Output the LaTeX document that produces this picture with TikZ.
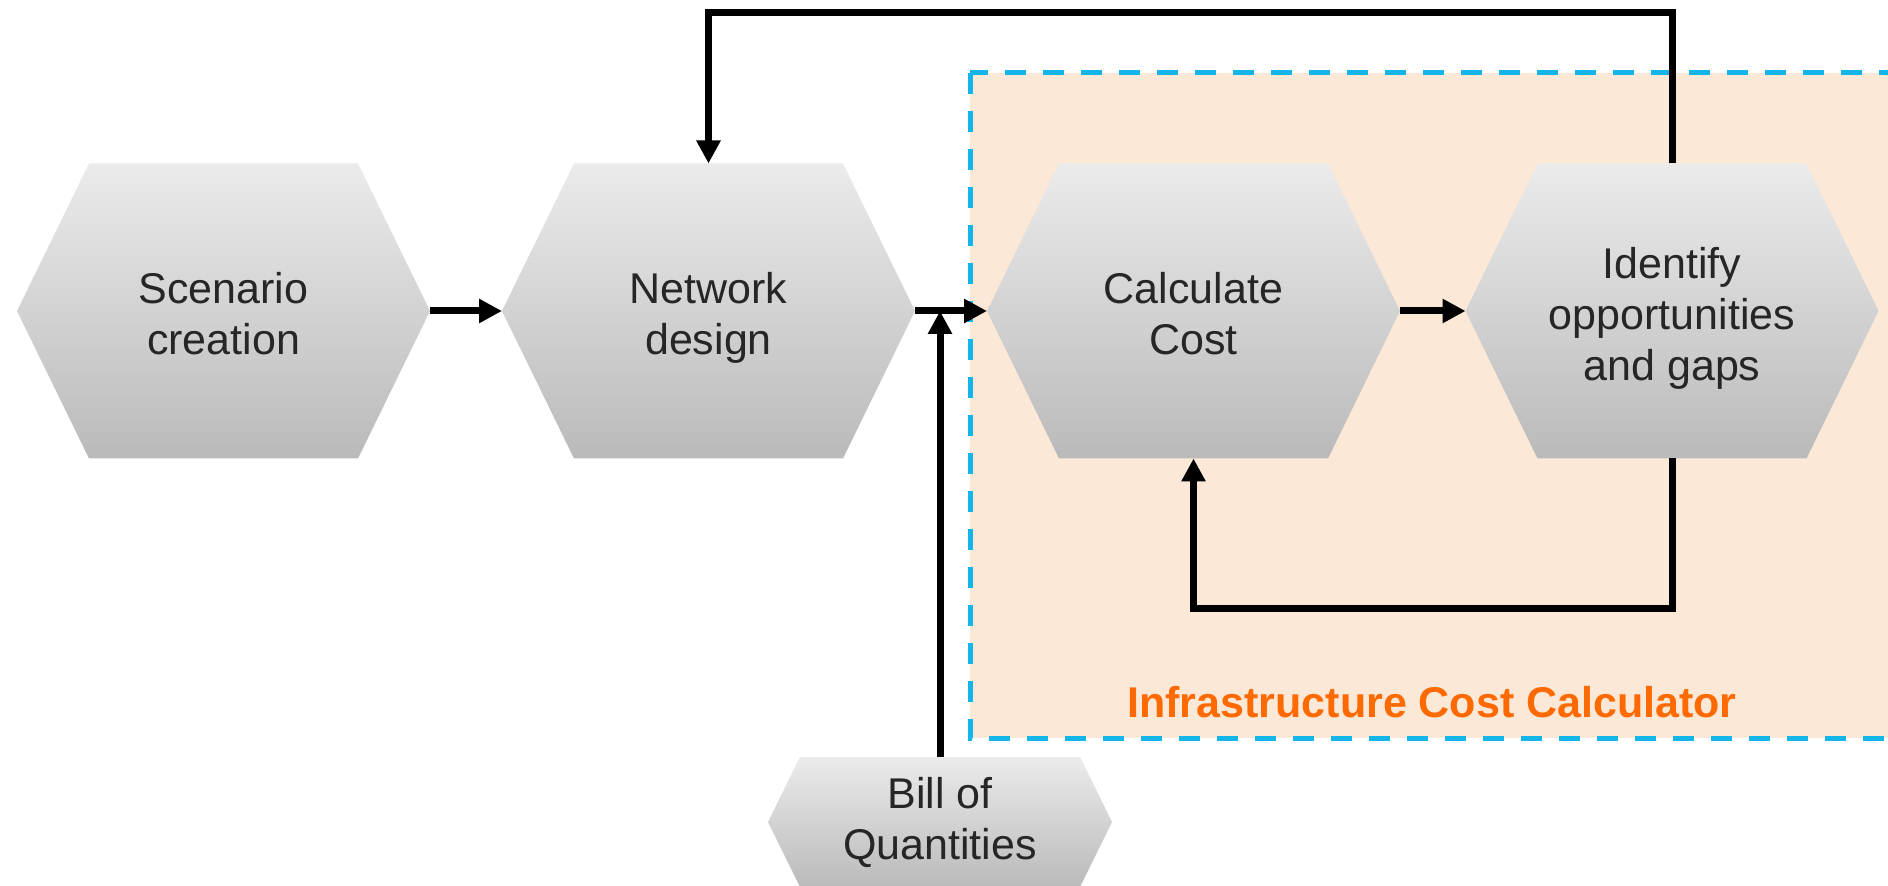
\documentclass[tikz,border=0pt]{standalone}
\usepackage{fontspec}
\setmainfont{Liberation Sans}
\usetikzlibrary{arrows.meta,shadings}
\definecolor{peach}{HTML}{FBE8D7}
\definecolor{dashblue}{HTML}{14B6E9}
\definecolor{lblorange}{HTML}{FF6A00}
\definecolor{hextop}{HTML}{EBEBEB}
\definecolor{hexbot}{HTML}{BABABA}
\definecolor{hextext}{HTML}{262626}
\newcommand\topstrut{\rule{0pt}{23.4pt}}
\newcommand\botstrut{\rule[-5pt]{0pt}{5pt}}
\newcommand\smalltopstrut{\rule{0pt}{16.8pt}}
\begin{document}
\begin{tikzpicture}[x=0.5pt,y=-0.5pt,
  hexbox/.style n args={3}{minimum width=#1, minimum height=#2, inner sep=0pt, outer sep=0pt,
    align=center, text=hextext, font=\fontsize{21.5}{25.5}\selectfont,
    path picture={\shade[top color=hextop,bottom color=hexbot]
      (path picture bounding box.west)
      -- ([xshift=#3]path picture bounding box.north west)
      -- ([xshift=-#3]path picture bounding box.north east)
      -- (path picture bounding box.east)
      -- ([xshift=-#3]path picture bounding box.south east)
      -- ([xshift=#3]path picture bounding box.south west) -- cycle;}},
  bighex/.style={hexbox={206.5pt}{147.5pt}{36pt}},
  flowarrow/.style={line width=3.5pt, black, -{Triangle[length=11.5pt,width=11.5pt]}},
  calcframe/.style={fill=peach, draw=dashblue, line width=2.5pt, dash pattern=on 10.5pt off 8.5pt}
]
\useasboundingbox (0,0) rectangle (1888,886);
\fill[white] (0,0) rectangle (1888,886);
% frame of the calculator
\path[calcframe] (970,73) rectangle (1910,738);
\node[font=\bfseries\fontsize{21.5}{25.5}\selectfont, text=lblorange] (lbl) at (1432,702) {Infrastructure Cost Calculator};
% process steps
\node[bighex] (scen) at (223.5,311) {\topstrut Scenario\\creation\botstrut};
\node[bighex] (net) at (708.5,311) {\topstrut Network\\design\botstrut};
\node[bighex] (calc) at (1193.5,311) {\topstrut Calculate\\Cost\botstrut};
\node[bighex] (ident) at (1672,311) {\topstrut Identify\\opportunities\\and gaps\botstrut};
\node[hexbox={172pt}{65pt}{16pt}] (boq) at (940,822) {\smalltopstrut Bill of\\Quantities\botstrut};
% connectors
\draw[flowarrow] (scen.east) -- (net.west);
\draw[flowarrow] (net.east) -- (calc.west);
\draw[flowarrow] (calc.east) -- (ident.west);
\draw[flowarrow] (boq.north) -- (boq.north |- net.east);
\draw[flowarrow] (ident.south) -- ++(0,150) -| (calc.south);
\draw[flowarrow] (ident.north) -- ++(0,-151) -| (net.north);
\end{tikzpicture}
\end{document}
